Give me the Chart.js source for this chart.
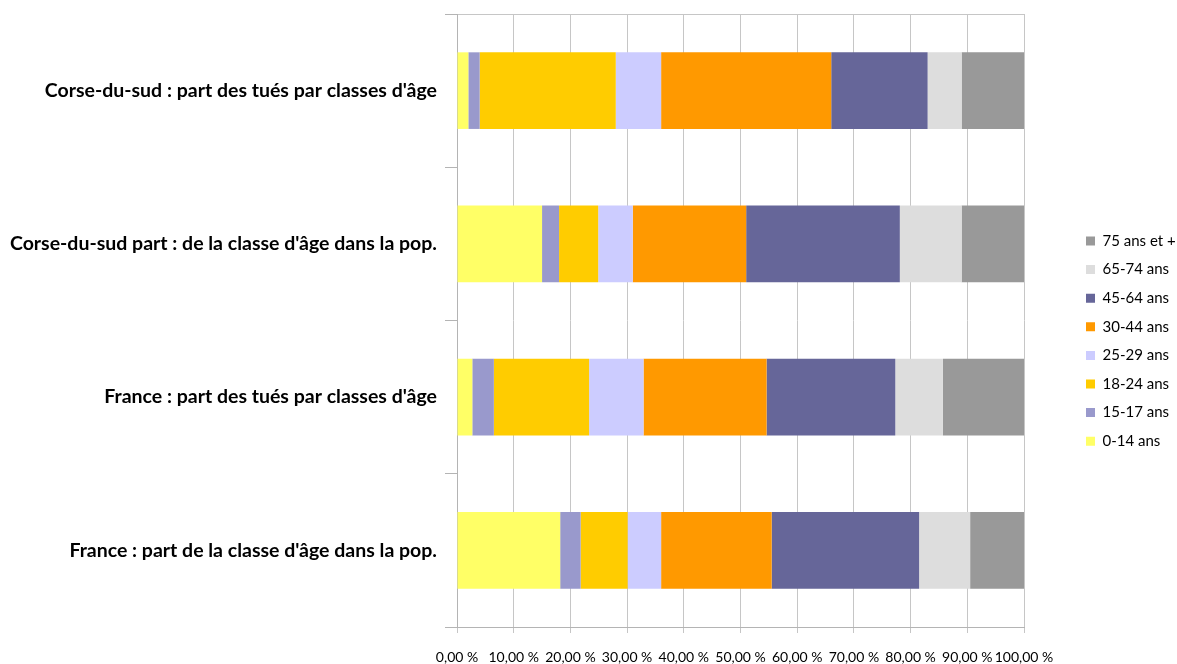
<!DOCTYPE html>
<html lang="fr">
<head>
<meta charset="utf-8">
<title>Tués par classes d'âge</title>
<script src="https://cdn.jsdelivr.net/npm/chart.js@4.4.1/dist/chart.umd.min.js"></script>
<style>
  html, body { margin: 0; padding: 0; background: #fff; }
  #chart-ages { display: block; }
</style>
</head>
<body>
<canvas id="chart-ages" width="1177" height="664"></canvas>
<script>
// rows, top to bottom
const categories = [
    "Corse-du-sud : part des tués par classes d'âge",
    "Corse-du-sud part : de la classe d'âge dans la pop.",
    "France : part des tués par classes d'âge",
    "France : part de la classe d'âge dans la pop."
];

// age classes (stack order, left to right)
const ageClasses = ['0-14 ans', '15-17 ans', '18-24 ans', '25-29 ans', '30-44 ans', '45-64 ans', '65-74 ans', '75 ans et +'];
const ageColors = ['#FFFF66', '#9999CC', '#FFCC00', '#CCCCFF', '#FF9900', '#666699', '#DDDDDD', '#999999'];

// shares in % for each row, one array per age class
const age0_14  = [2.0, 15.0, 2.7, 18.2];
const age15_17 = [2.0, 3.0, 3.8, 3.6];
const age18_24 = [24.0, 6.9, 16.8, 8.3];
const age25_29 = [8.0, 6.1, 9.6, 5.9];
const age30_44 = [30.0, 20.0, 21.7, 19.5];
const age45_64 = [17.0, 27.1, 22.7, 26.0];
const age65_74 = [6.0, 10.9, 8.4, 9.0];
const age75up  = [11.0, 11.0, 14.3, 9.5];

// x axis ticks
const xTicks = [0, 10, 20, 30, 40, 50, 60, 70, 80, 90, 100];

const seriesValues = [age0_14, age15_17, age18_24, age25_29, age30_44, age45_64, age65_74, age75up];

const GRID = '#c6c6c6';
const AXIS = '#b4b4b4';
const FONT = 'Lato, "Liberation Sans", sans-serif';

// legend sits apart from the plot, right of it
const LEGEND_SLOT = 153;
const LEGEND_X = 1086;
const LEGEND_Y = 233.5;

const legendSlot = {
    id: 'legendSlot',
    beforeLayout(chart) {
        const lg = chart.legend;
        if (lg && !lg._slotPatched) {
            const fit = lg.fit.bind(lg);
            lg.fit = function() {
                fit();
                this.width = LEGEND_SLOT;
            };
            lg._slotPatched = true;
        }
    },
    afterLayout(chart) {
        const lg = chart.legend;
        if (!lg) return;
        const pad = lg.options.labels.padding;
        const dx = LEGEND_X - pad - lg.left;
        const dy = LEGEND_Y - pad - lg.top;
        lg.left += dx; lg.right += dx;
        lg.top += dy; lg.bottom += dy;
    }
};

document.addEventListener('DOMContentLoaded', function() {
    const ctx = document.getElementById('chart-ages').getContext('2d');

    const datasets = ageClasses.map(function(name, i) {
        return {
            label: name,
            data: seriesValues[i],
            backgroundColor: ageColors[i],
            borderWidth: 0,
            barPercentage: 0.5,
            categoryPercentage: 1.0
        };
    });

    new Chart(ctx, {
        type: 'bar',
        data: { labels: categories, datasets: datasets },
        plugins: [legendSlot],
        options: {
            indexAxis: 'y',
            responsive: false,
            animation: false,
            layout: { padding: { top: 14, left: 0, right: 0, bottom: 0 } },
            plugins: {
                legend: {
                    position: 'right',
                    align: 'start',
                    reverse: true,
                    labels: {
                        boxWidth: 9,
                        boxHeight: 9,
                        padding: 13.6,
                        color: '#000',
                        font: { family: FONT, size: 15 }
                    }
                },
                tooltip: {
                    callbacks: {
                        label: function(context) {
                            return context.dataset.label + ' : ' + context.raw.toFixed(2).replace('.', ',') + ' %';
                        }
                    }
                }
            },
            scales: {
                x: {
                    stacked: true,
                    min: 0,
                    max: 100,
                    afterBuildTicks: function(scale) {
                        scale.ticks = xTicks.map(function(v) { return { value: v }; });
                    },
                    afterFit: function(scale) {
                        scale.height = 37;
                        scale.paddingLeft = 0;
                        scale.paddingRight = 0;
                    },
                    grid: { color: GRID, lineWidth: 1, tickLength: 6 },
                    border: { display: true, color: AXIS },
                    ticks: {
                        color: '#000',
                        padding: 16,
                        maxRotation: 0,
                        autoSkip: false,
                        font: { family: FONT, size: 14 },
                        callback: function(value) {
                            return value.toFixed(2).replace('.', ',') + ' %';
                        }
                    }
                },
                x2: {
                    position: 'top',
                    display: true,
                    min: 0,
                    max: 100,
                    afterFit: function(scale) { scale.height = 0; },
                    grid: { display: false, drawTicks: false },
                    border: { display: true, color: GRID },
                    ticks: { display: false }
                },
                y: {
                    stacked: true,
                    afterFit: function(scale) {
                        scale.width = 457;
                        scale.paddingTop = 0;
                        scale.paddingBottom = 0;
                    },
                    grid: {
                        offset: true,
                        drawOnChartArea: false,
                        drawTicks: true,
                        tickLength: 12,
                        color: AXIS
                    },
                    border: { display: true, color: AXIS },
                    ticks: {
                        color: '#000',
                        padding: 8,
                        autoSkip: false,
                        font: { family: FONT, size: 19.5, weight: 'bold' }
                    }
                }
            }
        }
    });
});
</script>
</body>
</html>
